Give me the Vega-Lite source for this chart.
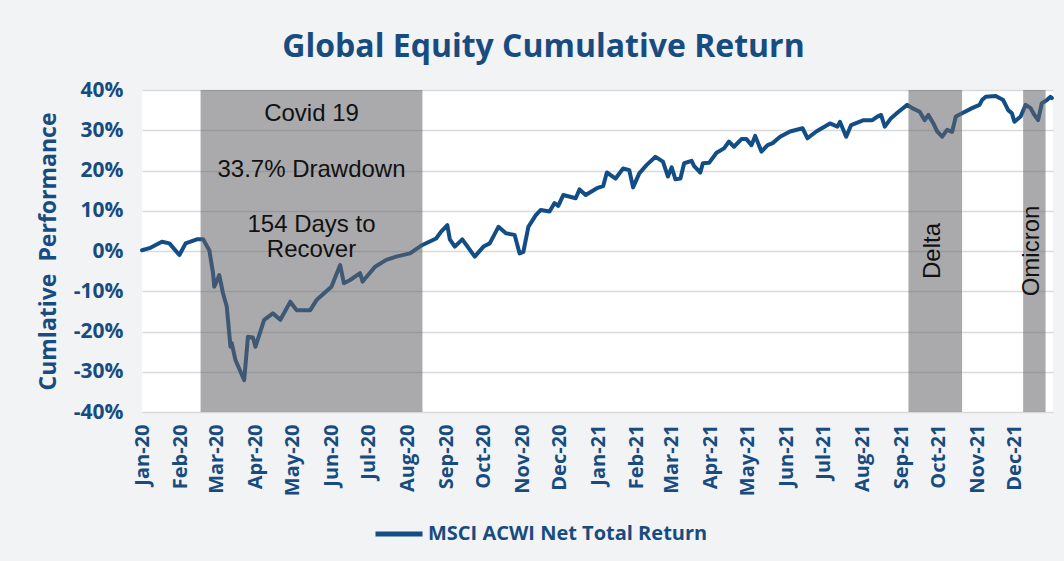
{
  "$schema": "https://vega.github.io/schema/vega-lite/v6.json",
  "width": 911,
  "height": 322,
  "autosize": {"type": "none"},
  "padding": {"left": 142, "top": 90, "right": 11, "bottom": 149},
  "background": "#f2f3f4",
  "title": {
    "text": "Global Equity Cumulative Return",
    "font": "Open Sans",
    "fontSize": 32,
    "fontWeight": "bold",
    "color": "#184c80",
    "anchor": "middle",
    "dx": -54,
    "offset": 15
  },
  "config": {
    "view": {"fill": "white", "stroke": null},
    "axis": {"labelFont": "Open Sans", "labelFontWeight": "bold", "labelColor": "#184c80", "titleFont": "Open Sans", "titleColor": "#184c80"}
  },
  "datasets": {
    "series": [
      {"date": "2020-01-01", "pct": 0.2},
      {"date": "2020-01-07", "pct": 0.7},
      {"date": "2020-01-17", "pct": 2.3},
      {"date": "2020-01-23", "pct": 1.9},
      {"date": "2020-01-31", "pct": -1.0},
      {"date": "2020-02-05", "pct": 1.9},
      {"date": "2020-02-14", "pct": 2.9},
      {"date": "2020-02-19", "pct": 2.9},
      {"date": "2020-02-24", "pct": 0.2},
      {"date": "2020-02-27", "pct": -5.5},
      {"date": "2020-02-28", "pct": -8.9},
      {"date": "2020-03-03", "pct": -6.0},
      {"date": "2020-03-06", "pct": -10.5},
      {"date": "2020-03-09", "pct": -13.8},
      {"date": "2020-03-12", "pct": -23.8},
      {"date": "2020-03-13", "pct": -22.9},
      {"date": "2020-03-16", "pct": -27.1},
      {"date": "2020-03-23", "pct": -32.1},
      {"date": "2020-03-26", "pct": -21.3},
      {"date": "2020-03-30", "pct": -21.5},
      {"date": "2020-04-01", "pct": -23.8},
      {"date": "2020-04-08", "pct": -17.1},
      {"date": "2020-04-15", "pct": -15.5},
      {"date": "2020-04-21", "pct": -17.1},
      {"date": "2020-04-29", "pct": -12.6},
      {"date": "2020-05-04", "pct": -14.7},
      {"date": "2020-05-15", "pct": -14.7},
      {"date": "2020-05-20", "pct": -12.2},
      {"date": "2020-06-01", "pct": -8.9},
      {"date": "2020-06-08", "pct": -3.5},
      {"date": "2020-06-11", "pct": -8.0},
      {"date": "2020-06-16", "pct": -7.2},
      {"date": "2020-06-24", "pct": -5.5},
      {"date": "2020-06-26", "pct": -7.6},
      {"date": "2020-07-06", "pct": -3.9},
      {"date": "2020-07-15", "pct": -2.2},
      {"date": "2020-07-23", "pct": -1.4},
      {"date": "2020-08-03", "pct": -0.6},
      {"date": "2020-08-13", "pct": 1.5},
      {"date": "2020-08-24", "pct": 3.1},
      {"date": "2020-08-28", "pct": 4.8},
      {"date": "2020-09-02", "pct": 6.4},
      {"date": "2020-09-04", "pct": 2.9},
      {"date": "2020-09-08", "pct": 1.1},
      {"date": "2020-09-14", "pct": 2.9},
      {"date": "2020-09-24", "pct": -1.4},
      {"date": "2020-10-01", "pct": 1.1},
      {"date": "2020-10-06", "pct": 1.9},
      {"date": "2020-10-13", "pct": 6.0},
      {"date": "2020-10-19", "pct": 4.4},
      {"date": "2020-10-26", "pct": 4.0},
      {"date": "2020-10-30", "pct": -0.6},
      {"date": "2020-11-02", "pct": -0.2},
      {"date": "2020-11-06", "pct": 6.0},
      {"date": "2020-11-12", "pct": 8.9},
      {"date": "2020-11-16", "pct": 10.2},
      {"date": "2020-11-23", "pct": 9.8},
      {"date": "2020-11-27", "pct": 11.9},
      {"date": "2020-11-30", "pct": 11.2},
      {"date": "2020-12-04", "pct": 13.9},
      {"date": "2020-12-14", "pct": 13.1},
      {"date": "2020-12-17", "pct": 15.3},
      {"date": "2020-12-22", "pct": 13.9},
      {"date": "2020-12-31", "pct": 15.6},
      {"date": "2021-01-05", "pct": 16.1},
      {"date": "2021-01-08", "pct": 19.5},
      {"date": "2021-01-15", "pct": 18.0},
      {"date": "2021-01-21", "pct": 20.5},
      {"date": "2021-01-26", "pct": 20.1},
      {"date": "2021-01-29", "pct": 15.8},
      {"date": "2021-02-03", "pct": 19.3},
      {"date": "2021-02-09", "pct": 21.4},
      {"date": "2021-02-16", "pct": 23.4},
      {"date": "2021-02-22", "pct": 22.2},
      {"date": "2021-02-26", "pct": 18.5},
      {"date": "2021-03-01", "pct": 20.8},
      {"date": "2021-03-04", "pct": 17.8},
      {"date": "2021-03-08", "pct": 18.0},
      {"date": "2021-03-11", "pct": 21.8},
      {"date": "2021-03-17", "pct": 22.4},
      {"date": "2021-03-19", "pct": 21.1},
      {"date": "2021-03-24", "pct": 19.5},
      {"date": "2021-03-26", "pct": 21.8},
      {"date": "2021-03-31", "pct": 21.9},
      {"date": "2021-04-06", "pct": 24.4},
      {"date": "2021-04-12", "pct": 25.5},
      {"date": "2021-04-16", "pct": 27.2},
      {"date": "2021-04-20", "pct": 25.9},
      {"date": "2021-04-26", "pct": 27.8},
      {"date": "2021-04-30", "pct": 27.8},
      {"date": "2021-05-04", "pct": 26.3},
      {"date": "2021-05-07", "pct": 28.6},
      {"date": "2021-05-12", "pct": 24.7},
      {"date": "2021-05-17", "pct": 26.3},
      {"date": "2021-05-21", "pct": 26.8},
      {"date": "2021-05-27", "pct": 28.4},
      {"date": "2021-06-04", "pct": 29.7},
      {"date": "2021-06-14", "pct": 30.5},
      {"date": "2021-06-18", "pct": 28.0},
      {"date": "2021-06-25", "pct": 29.7},
      {"date": "2021-07-06", "pct": 31.7},
      {"date": "2021-07-12", "pct": 30.9},
      {"date": "2021-07-14", "pct": 32.1},
      {"date": "2021-07-19", "pct": 28.4},
      {"date": "2021-07-23", "pct": 31.3},
      {"date": "2021-08-02", "pct": 32.5},
      {"date": "2021-08-09", "pct": 32.5},
      {"date": "2021-08-13", "pct": 33.4},
      {"date": "2021-08-16", "pct": 33.8},
      {"date": "2021-08-19", "pct": 30.9},
      {"date": "2021-08-24", "pct": 33.0},
      {"date": "2021-08-30", "pct": 34.6},
      {"date": "2021-09-06", "pct": 36.3},
      {"date": "2021-09-10", "pct": 35.5},
      {"date": "2021-09-16", "pct": 34.6},
      {"date": "2021-09-20", "pct": 32.5},
      {"date": "2021-09-23", "pct": 33.8},
      {"date": "2021-09-27", "pct": 31.7},
      {"date": "2021-09-30", "pct": 29.7},
      {"date": "2021-10-04", "pct": 28.4},
      {"date": "2021-10-08", "pct": 30.1},
      {"date": "2021-10-12", "pct": 29.6},
      {"date": "2021-10-15", "pct": 33.4},
      {"date": "2021-10-20", "pct": 34.2},
      {"date": "2021-10-28", "pct": 35.5},
      {"date": "2021-11-03", "pct": 36.3},
      {"date": "2021-11-05", "pct": 37.5},
      {"date": "2021-11-08", "pct": 38.3},
      {"date": "2021-11-16", "pct": 38.5},
      {"date": "2021-11-22", "pct": 37.5},
      {"date": "2021-11-26", "pct": 35.0},
      {"date": "2021-11-29", "pct": 34.2},
      {"date": "2021-12-01", "pct": 32.1},
      {"date": "2021-12-06", "pct": 33.4},
      {"date": "2021-12-10", "pct": 36.3},
      {"date": "2021-12-14", "pct": 35.5},
      {"date": "2021-12-17", "pct": 33.8},
      {"date": "2021-12-20", "pct": 32.5},
      {"date": "2021-12-23", "pct": 36.7},
      {"date": "2021-12-27", "pct": 37.5},
      {"date": "2021-12-30", "pct": 38.3},
      {"date": "2021-12-31", "pct": 38.0}
    ],
    "periods": [
      {"start": "2020-02-17", "end": "2020-08-13"},
      {"start": "2021-09-07", "end": "2021-10-20"},
      {"start": "2021-12-08", "end": "2021-12-26"}
    ],
    "notes": [
      {"date": "2020-05-16", "pct": 34.0, "label": "Covid 19"},
      {"date": "2020-05-16", "pct": 20.1, "label": "33.7% Drawdown"},
      {"date": "2020-05-16", "pct": 6.5, "label": "154 Days to"},
      {"date": "2020-05-16", "pct": 0.3, "label": "Recover"}
    ],
    "vnotes": [
      {"date": "2021-09-27", "pct": 0.0, "label": "Delta"},
      {"date": "2021-12-15", "pct": 0.0, "label": "Omicron"}
    ]
  },
  "layer": [
    {
      "data": {"name": "series"},
      "mark": {"type": "line", "strokeWidth": 4, "strokeJoin": "round", "strokeCap": "round"},
      "encoding": {
        "x": {
          "field": "date", "type": "temporal",
          "scale": {"type": "utc", "domain": [{"year": 2020, "month": 1, "date": 1, "utc": true}, {"year": 2021, "month": 12, "date": 31, "hours": 23, "utc": true}]},
          "axis": {
            "title": null, "format": "%b-%y", "labelAngle": 270, "labelFontSize": 20,
            "tickCount": {"interval": "month", "step": 1},
            "labelOverlap": false, "labelFlush": false, "labelBound": false,
            "ticks": false, "domain": false, "grid": false, "labelPadding": 12
          }
        },
        "y": {
          "field": "pct", "type": "quantitative",
          "scale": {"domain": [-40, 40], "nice": false},
          "axis": {
            "title": "Cumlative \u00a0Performance", "titleFontSize": 23, "titleFontWeight": "bold", "titlePadding": 13,
            "values": [-40, -30, -20, -10, 0, 10, 20, 30, 40], "labelExpr": "datum.value + '%'",
            "labelFontSize": 21, "ticks": false, "domain": false, "labelPadding": 19,
            "gridColor": "#d9d9d9", "gridWidth": 1.5
          }
        },
        "color": {
          "datum": "MSCI ACWI Net Total Return",
          "scale": {"range": ["#124d85"]},
          "legend": {
            "title": null, "orient": "none", "legendX": 231, "legendY": 418,
            "symbolType": "stroke", "symbolSize": 2209, "symbolStrokeWidth": 5,
            "labelFont": "Open Sans", "labelFontWeight": "bold", "labelFontSize": 20, "labelColor": "#184c80", "labelOffset": 3, "labelLimit": 0
          }
        }
      }
    },
    {
      "data": {"name": "periods"},
      "mark": {"type": "rect", "color": "#646468", "opacity": 0.55},
      "encoding": {
        "x": {"field": "start", "type": "temporal"},
        "x2": {"field": "end"}
      }
    },
    {
      "data": {"name": "notes"},
      "mark": {"type": "text", "font": "Liberation Sans", "fontSize": 24, "color": "#111111", "align": "center", "baseline": "middle"},
      "encoding": {
        "x": {"field": "date", "type": "temporal"},
        "y": {"field": "pct", "type": "quantitative"},
        "text": {"field": "label"}
      }
    },
    {
      "data": {"name": "vnotes"},
      "mark": {"type": "text", "font": "Liberation Sans", "fontSize": 24, "color": "#111111", "align": "center", "baseline": "middle", "angle": 270},
      "encoding": {
        "x": {"field": "date", "type": "temporal"},
        "y": {"field": "pct", "type": "quantitative"},
        "text": {"field": "label"}
      }
    }
  ]
}
